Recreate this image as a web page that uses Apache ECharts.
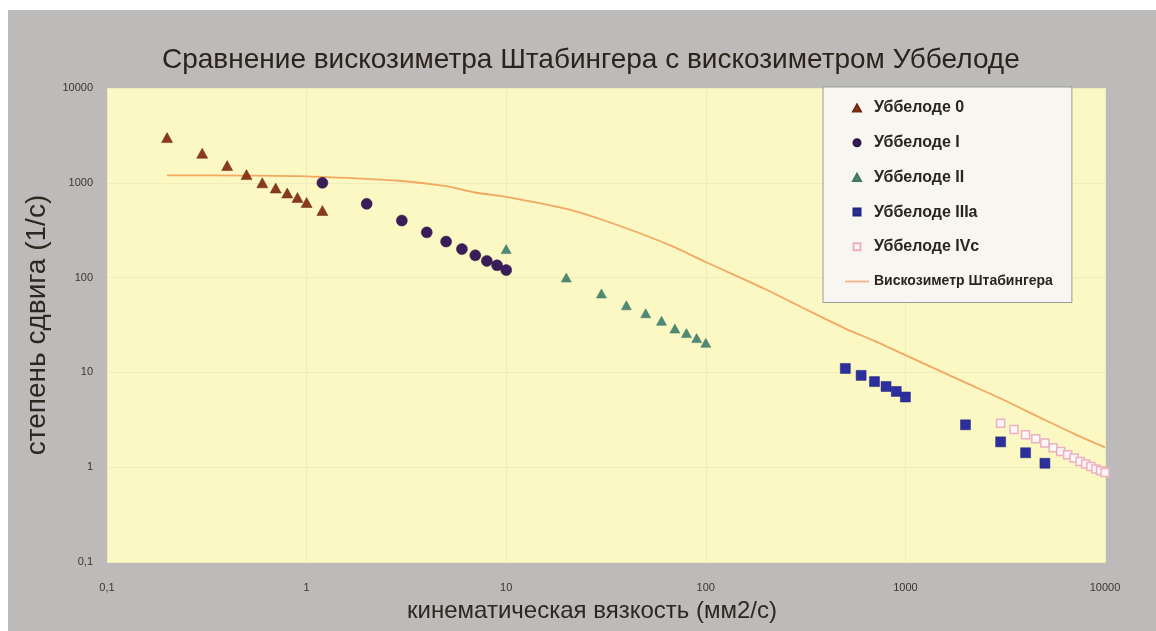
<!DOCTYPE html>
<html>
<head>
<meta charset="utf-8">
<script src="https://cdn.jsdelivr.net/npm/echarts@6/dist/echarts.min.js"></script>
<style>
  html, body { margin: 0; padding: 0; background: #ffffff; }
  #chart { position: absolute; left: 8px; top: 10px; width: 1148px; height: 621px; }
</style>
</head>
<body>
<div id="chart"></div>
<script>
// Уббелоде 0
const ub0X = [0.2, 0.3, 0.4, 0.5, 0.6, 0.7, 0.8, 0.9, 1, 1.2]
const ub0Y = [3000, 2050, 1520, 1220, 1000, 880, 780, 700, 620, 510]
// Уббелоде I
const ub1X = [1.2, 2, 3, 4, 5, 6, 7, 8, 9, 10]
const ub1Y = [1000, 600, 400, 300, 240, 200, 172, 150, 135, 120]
// Уббелоде II
const ub2X = [10, 20, 30, 40, 50, 60, 70, 80, 90, 100]
const ub2Y = [200, 100, 68, 51, 42, 35, 29, 26, 23, 20.5]
// Уббелоде IIIa
const ub3X = [500, 600, 700, 800, 900, 1000, 2000, 3000, 4000, 5000]
const ub3Y = [11, 9.3, 8, 7.1, 6.3, 5.5, 2.8, 1.85, 1.42, 1.1]
// Уббелоде IVc
const ub4X = [3000, 3500, 4000, 4500, 5000, 5500, 6000, 6500, 7000, 7500, 8000, 8500, 9000, 9500, 10000]
const ub4Y = [2.9, 2.5, 2.2, 2.0, 1.8, 1.6, 1.46, 1.35, 1.25, 1.15, 1.08, 1.02, 0.96, 0.92, 0.88]
// Вискозиметр Штабингера
const stabX = [0.2, 0.5, 1, 2, 3, 5, 7, 10, 20, 30, 50, 70, 100, 200, 300, 500, 700, 1000, 2000, 3000, 5000, 7000, 10000]
const stabY = [1200, 1190, 1170, 1100, 1045, 920, 790, 710, 530, 410, 278, 208, 146, 75, 49, 29, 21.5, 15.2, 7.8, 5.3, 3.15, 2.25, 1.62]

const names = ['Уббелоде 0', 'Уббелоде I', 'Уббелоде II', 'Уббелоде IIIa', 'Уббелоде IVc', 'Вискозиметр Штабингера']

const zip = (xs, ys) => xs.map((x, i) => [x, ys[i]])
const fmt = (v) => String(+Number(v).toPrecision(6)).replace('.', ',')

// small legend icons (kept square by symbolKeepAspect)
const triIcon = 'path://M5,0 L10,9 L0,9 Z'
const sqIcon = 'path://M0,0 L10,0 L10,10 L0,10 Z'
const lineIcon = 'path://M0,0 L26,0 L26,2 L0,2 Z'

const chart = echarts.init(document.getElementById('chart'))

const font = 'Liberation Sans, Arial, sans-serif'
const tickLabel = { fontSize: 11, color: '#3a3632', fontFamily: 'Liberation Sans Narrow, Arial, sans-serif' }
const lineColor = '#f3a862'

chart.setOption({
  backgroundColor: '#bcbbb9',
  animation: false,
  title: {
    text: 'Сравнение вискозиметра Штабингера с вискозиметром Уббелоде',
    left: 149,
    top: 31,
    padding: 5,
    textStyle: { fontSize: 28, fontWeight: 'normal', color: '#2b231c', fontFamily: font },
  },
  legend: {
    orient: 'vertical',
    left: 815,
    top: 77,
    padding: [12, 19, 12, 22],
    backgroundColor: '#f7f6f1',
    borderColor: '#9a9a98',
    borderWidth: 1,
    itemWidth: 24,
    itemHeight: 7,
    itemGap: 16.7,
    symbolKeepAspect: true,
    textStyle: { fontSize: 16, fontWeight: 'bold', color: '#2a2420', lineHeight: 18, fontFamily: font },
    data: [
      { name: names[0], icon: triIcon },
      { name: names[1], icon: 'circle' },
      { name: names[2], icon: triIcon },
      { name: names[3], icon: sqIcon },
      { name: names[4], icon: sqIcon },
      {
        name: names[5],
        icon: lineIcon,
        itemStyle: { color: '#f5b58c', borderWidth: 0 },
        textStyle: { fontSize: 14, fontWeight: 'bold', lineHeight: 18 },
      },
    ],
  },
  grid: {
    left: 99,
    right: 51,
    top: 78,
    bottom: 69,
    show: true,
    backgroundColor: '#fbf8c4',
    borderWidth: 0,
  },
  xAxis: {
    type: 'log',
    logBase: 10,
    min: 0.1,
    max: 10000,
    name: 'кинематическая вязкость (мм2/с)',
    nameLocation: 'middle',
    nameGap: 37,
    nameTextStyle: { fontSize: 24, color: '#2e2620', fontFamily: font, padding: [0, 28, 0, 0] },
    axisLine: { show: false },
    axisTick: { show: false },
    axisLabel: Object.assign({ margin: 20, formatter: fmt }, tickLabel),
    splitLine: { show: true, lineStyle: { color: '#f0ecbc', width: 1 } },
  },
  yAxis: {
    type: 'log',
    logBase: 10,
    min: 0.1,
    max: 10000,
    name: 'степень сдвига (1/с)',
    nameLocation: 'middle',
    nameGap: 52,
    nameTextStyle: { fontSize: 28, color: '#2e2620', fontFamily: font },
    axisLine: { show: false },
    axisTick: { show: false },
    axisLabel: Object.assign({ margin: 14, formatter: fmt }, tickLabel),
    splitLine: { show: true, lineStyle: { color: '#f0ecbc', width: 1 } },
  },
  series: [
    {
      name: names[0],
      type: 'scatter',
      symbol: 'triangle',
      symbolSize: [11, 10],
      itemStyle: { color: '#8a3a1c', borderColor: '#6e2a12', borderWidth: 0.5, opacity: 1 },
      data: zip(ub0X, ub0Y),
      z: 3,
    },
    {
      name: names[1],
      type: 'scatter',
      symbol: 'circle',
      symbolSize: 11,
      itemStyle: { color: '#3a1d58', borderColor: '#2c1446', borderWidth: 0.5, opacity: 1 },
      data: zip(ub1X, ub1Y),
      z: 3,
    },
    {
      name: names[2],
      type: 'scatter',
      symbol: 'triangle',
      symbolSize: [10, 9],
      itemStyle: { color: '#4f8a76', borderColor: '#3f7563', borderWidth: 0.5, opacity: 1 },
      data: zip(ub2X, ub2Y),
      z: 3,
    },
    {
      name: names[3],
      type: 'scatter',
      symbol: 'rect',
      symbolSize: 10,
      itemStyle: { color: '#2c2f9c', borderColor: '#22257f', borderWidth: 0.5, opacity: 1 },
      data: zip(ub3X, ub3Y),
      z: 3,
    },
    {
      name: names[4],
      type: 'scatter',
      symbol: 'rect',
      symbolSize: 8,
      itemStyle: { color: '#fdf6f6', borderColor: '#eeb0c0', borderWidth: 1.5, opacity: 1 },
      data: zip(ub4X, ub4Y),
      z: 4,
    },
    {
      name: names[5],
      type: 'line',
      smooth: 0.3,
      showSymbol: false,
      symbol: 'none',
      lineStyle: { color: lineColor, width: 1.8 },
      itemStyle: { color: lineColor },
      data: zip(stabX, stabY),
      z: 2,
    },
  ],
})
</script>
</body>
</html>
